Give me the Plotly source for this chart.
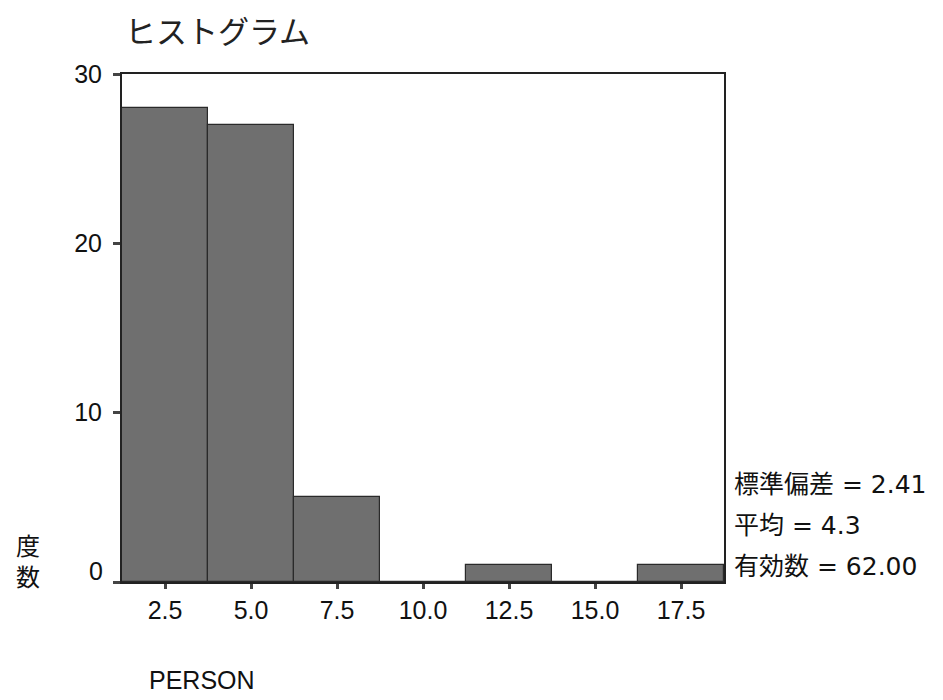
import plotly.graph_objects as go

bin_centers = [2.5, 5.0, 7.5, 10.0, 12.5, 15.0, 17.5]
counts = [28, 27, 5, 0, 1, 0, 1]
x_ticks = [2.5, 5.0, 7.5, 10.0, 12.5, 15.0, 17.5]
x_tick_labels = ["2.5", "5.0", "7.5", "10.0", "12.5", "15.0", "17.5"]
y_ticks = [0, 10, 20, 30]
y_tick_labels = ["", "10", "20", "30"]   # "0" is drawn slightly raised, as in the original
y_zero_label = "0"
stats_lines = ["標準偏差 = 2.41", "平均 = 4.3", "有効数 = 62.00"]
title_text = "ヒストグラム"
x_title = "PERSON"
y_title = "度<br>数"

OFF = 8  # page body margin
W, H = 943, 700
# plot area in page pixels
PL, PR, PT, PB = 122, 724, 74, 582
L, T = PL - OFF, PT - OFF
R, B = W - (PR - OFF), H - (PB - OFF)
pw, ph = PR - PL, PB - PT

def px_x(p):
    return (p - PL) / pw

def px_y(p):
    return (PB - p) / ph

jp = "Noto Sans CJK JP"
lat = "Liberation Sans"
mix = "DejaVu Sans, Noto Sans CJK JP"

fig = go.Figure()
fig.add_trace(go.Bar(
    x=bin_centers, y=counts, width=2.5,
    marker=dict(color="#6f6f6f", line=dict(color="#2a2a2a", width=1.2)),
    showlegend=False,
))

annotations = [
    dict(text=title_text, x=px_x(123), y=px_y(30), xref="paper", yref="paper",
         xanchor="left", yanchor="middle", showarrow=False,
         font=dict(family=jp, size=31, color="#222222")),
    dict(text=x_title, x=px_x(147), y=px_y(680), xref="paper", yref="paper",
         xanchor="left", yanchor="middle", showarrow=False,
         font=dict(family=lat, size=25, color="#111111")),
    dict(text=y_zero_label, x=px_x(105), y=px_y(571), xref="paper", yref="paper",
         xanchor="right", yanchor="middle", showarrow=False,
         font=dict(family=lat, size=25, color="#111111")),
    dict(text=y_title, x=px_x(28), y=px_y(560), xref="paper", yref="paper",
         xanchor="center", yanchor="middle", showarrow=False,
         font=dict(family=jp, size=24, color="#111111")),
]
for s, yy in zip(stats_lines, [484, 525, 566]):
    annotations.append(dict(text=s, x=px_x(732), y=px_y(yy), xref="paper", yref="paper",
                            xanchor="left", yanchor="middle", showarrow=False,
                            font=dict(family=mix, size=25, color="#111111")))

fig.update_layout(
    width=W, height=H,
    margin=dict(l=L, r=R, t=T, b=B, pad=0),
    paper_bgcolor="white", plot_bgcolor="white",
    bargap=0,
    annotations=annotations,
    xaxis=dict(range=[1.25, 18.75], tickvals=x_ticks, ticktext=x_tick_labels,
               ticks="outside", ticklen=5, tickwidth=3, tickcolor="#444444",
               showline=True, linecolor="#222222", linewidth=2, mirror=True,
               showgrid=False, zeroline=False,
               tickfont=dict(family=lat, size=25, color="#111111")),
    yaxis=dict(range=[0, 30], tickvals=y_ticks, ticktext=y_tick_labels,
               ticks="outside", ticklen=7, tickwidth=3, tickcolor="#444444",
               showline=True, linecolor="#222222", linewidth=2, mirror=True,
               showgrid=False, zeroline=False, ticklabelstandoff=6,
               tickfont=dict(family=lat, size=25, color="#111111")),
)

fig.write_html("out.html")
